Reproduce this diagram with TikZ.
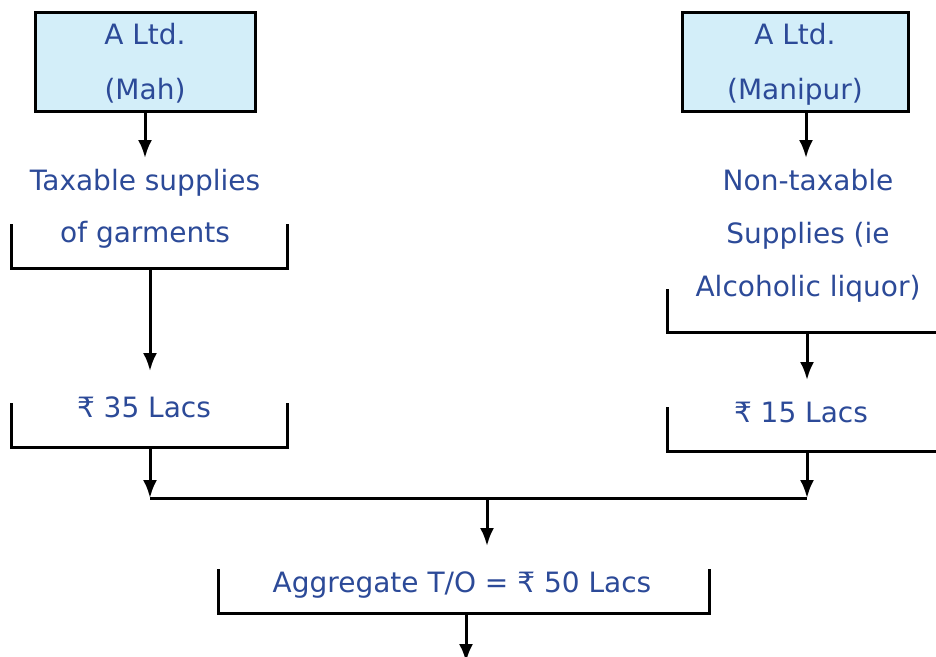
\documentclass[tikz,border=0pt]{standalone}
\usepackage{fontspec}
\setmainfont{DejaVu Sans}
\usetikzlibrary{arrows.meta}
\definecolor{txtblue}{RGB}{44,74,152}
\definecolor{boxfill}{RGB}{211,238,249}
\tikzset{
  lbl/.style={text=txtblue, font=\fontsize{28}{32}\selectfont, inner sep=0pt, anchor=base},
  entity/.style={draw=black, line width=3pt, fill=boxfill},
  brk/.style={draw=black, line width=3pt},
  arr/.style={draw=black, line width=3pt, -{Latex[length=18pt,width=14pt]}},
}
\begin{document}
\begin{tikzpicture}[x=1pt,y=-1pt]
\useasboundingbox (0,0) rectangle (936,656);
% entity boxes
\node[entity, minimum width=220pt, minimum height=99pt, inner sep=0pt] (bl) at (145,62) {};
\node[entity, minimum width=226pt, minimum height=99pt, inner sep=0pt] (br) at (795,62) {};
\node[lbl] (bl1) at (145,44) {A Ltd.};
\node[lbl] (bl2) at (145,99) {(Mah)};
\node[lbl] (br1) at (795,44) {A Ltd.};
\node[lbl] (br2) at (795,99) {(Manipur)};
% left column texts
\node[lbl] (t1) at (145,190) {Taxable supplies};
\node[lbl] (t2) at (145,242) {of garments};
\node[lbl] (l35) at (144,417) {₹ 35 Lacs};
% right column texts
\node[lbl] (n1) at (808,190) {Non-taxable};
\node[lbl] (n2) at (808,243) {Supplies (ie};
\node[lbl] (n3) at (808,296) {Alcoholic liquor)};
\node[lbl] (r15) at (801,422) {₹ 15 Lacs};
\node[lbl] (agg) at (462,592) {Aggregate T/O = ₹ 50 Lacs};
% coordinates for brackets and lines
\coordinate (b1a) at (11,224); \coordinate (b1b) at (11,268); \coordinate (b1c) at (287,268); \coordinate (b1d) at (287,224);
\coordinate (b1m) at (150,268);
\coordinate (b2a) at (11,403); \coordinate (b2b) at (11,447); \coordinate (b2c) at (287,447); \coordinate (b2d) at (287,403);
\coordinate (b2m) at (150,447);
\coordinate (b3a) at (667,289); \coordinate (b3b) at (667,332); \coordinate (b3c) at (940,332);
\coordinate (b3m) at (807,332);
\coordinate (b4a) at (667,407); \coordinate (b4b) at (667,451); \coordinate (b4c) at (940,451);
\coordinate (b4m) at (807,451);
\coordinate (mL) at (150,498); \coordinate (mR) at (807,498); \coordinate (mM) at (487,498);
\coordinate (b5a) at (218,569); \coordinate (b5b) at (218,613); \coordinate (b5c) at (709,613); \coordinate (b5d) at (709,569);
\coordinate (b5m) at (466,613);
\coordinate (out) at (466,662);
% brackets
\draw[brk] (b1a) -- (b1b) -- (b1c) -- (b1d);
\draw[brk] (b2a) -- (b2b) -- (b2c) -- (b2d);
\draw[brk] (b3a) -- (b3b) -- (b3c);
\draw[brk] (b4a) -- (b4b) -- (b4c);
\draw[brk] (b5a) -- (b5b) -- (b5c) -- (b5d);
\draw[brk] (mL) -- (mR);
% arrows
\draw[arr] (bl.south) -- (145,158);
\draw[arr] (br.south -| 806,0) -- (806,158);
\draw[arr] (b1m) -- (150,371);
\draw[arr] (b3m) -- (807,380);
\draw[arr] (b2m) -- (mL);
\draw[arr] (b4m) -- (mR);
\draw[arr] (mM) -- (487,546);
\draw[arr] (b5m) -- (out);
\end{tikzpicture}
\end{document}
